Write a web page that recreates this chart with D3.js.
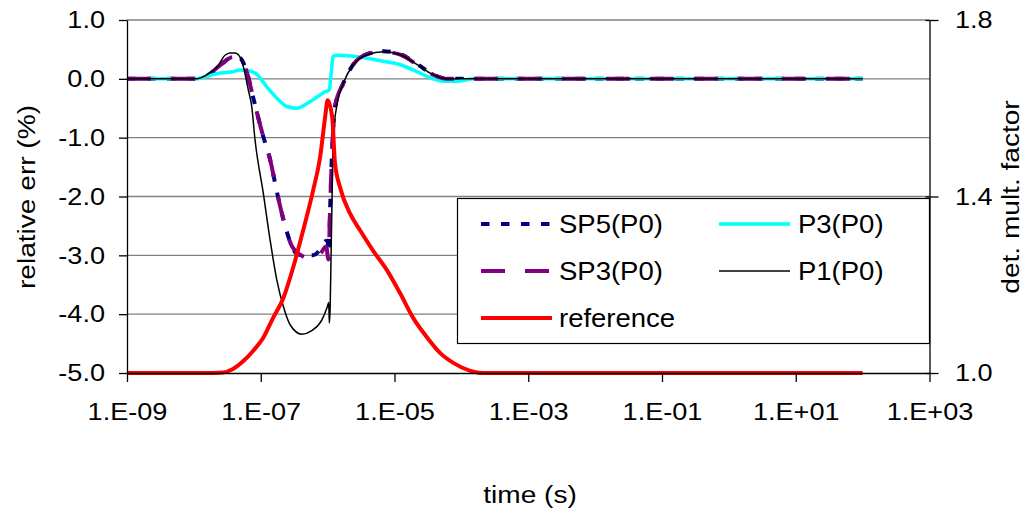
<!DOCTYPE html>
<html>
<head>
<meta charset="utf-8">
<script src="https://cdn.jsdelivr.net/npm/d3@7/dist/d3.min.js"></script>
<style>
  body { margin: 0; background: #fff; }
  svg { display: block; }
  text { font-family: "Liberation Sans", Arial, sans-serif; fill: #000; }
</style>
</head>
<body>
<svg id="chart" width="1035" height="514"></svg>
<script>
// ---- axis ticks ----
const xTicks = [1e-9, 1e-7, 1e-5, 1e-3, 1e-1, 1e1, 1e3];
const xTickLabels = ["1.E-09", "1.E-07", "1.E-05", "1.E-03", "1.E-01", "1.E+01", "1.E+03"];
const leftTicks = [-5, -4, -3, -2, -1, 0, 1];
const leftTickLabels = ["-5.0", "-4.0", "-3.0", "-2.0", "-1.0", "0.0", "1.0"];
const rightTicks = [1.0, 1.4, 1.8];
const rightTickLabels = ["1.0", "1.4", "1.8"];

// ---- series: [time (s), value] ----
// relative error (%) on the left axis
const sp5 = [
  [1e-9, 0], [1.11e-8, 0], [1.57e-8, 0.05], [2.46e-8, 0.23], [3.85e-8, 0.37], [4.9e-8, 0.35],
  [6.24e-8, 0.1], [7.67e-8, -0.31], [1.09e-7, -0.98], [1.38e-7, -1.37], [1.75e-7, -1.93],
  [2.18e-7, -2.39], [2.94e-7, -2.85], [3.49e-7, -2.98], [4.3e-7, -3.0], [6.07e-7, -3.0],
  [7.72e-7, -2.9], [9.18e-7, -2.76], [1.0e-6, -2.75], [1.04e-6, -2.95], [1.09e-6, -2.2],
  [1.17e-6, -1.2], [1.29e-6, -0.47], [1.71e-6, -0.08], [2.41e-6, 0.24], [3.9e-6, 0.42],
  [6.78e-6, 0.47], [1.22e-5, 0.42], [2.19e-5, 0.25], [3.8e-5, 0.07], [6.15e-5, 0], [100, 0]
];
const p3 = [
  [1e-9, 0], [1.11e-8, 0], [1.22e-8, 0.01], [2.46e-8, 0.1], [3.85e-8, 0.12], [4.9e-8, 0.15],
  [6.52e-8, 0.14], [8.81e-8, 0.07], [1.24e-7, -0.14], [1.75e-7, -0.33], [2.48e-7, -0.47],
  [3.49e-7, -0.5], [4.93e-7, -0.42], [6.96e-7, -0.31], [9.18e-7, -0.22], [1.06e-6, -0.19],
  [1.13e-6, 0.1], [1.21e-6, 0.38], [1.39e-6, 0.4], [2.17e-6, 0.39], [3.9e-6, 0.35],
  [6.78e-6, 0.3], [1.22e-5, 0.24], [2.19e-5, 0.12], [3.8e-5, 0.0], [5.36e-5, -0.04],
  [8.69e-5, -0.04], [1.51e-4, 0], [100, 0]
];
const sp3 = [
  [1e-9, 0], [1.11e-8, 0], [1.57e-8, 0.05], [2.46e-8, 0.23], [3.85e-8, 0.37], [4.9e-8, 0.35],
  [6.24e-8, 0.1], [7.67e-8, -0.31], [1.09e-7, -0.98], [1.38e-7, -1.37], [1.75e-7, -1.93],
  [2.18e-7, -2.39], [2.94e-7, -2.85], [4.3e-7, -3.02], [5.8e-7, -3.07], [7.72e-7, -2.98],
  [9.5e-7, -2.85], [1.03e-6, -3.07], [1.09e-6, -2.17], [1.17e-6, -1.2], [1.29e-6, -0.47],
  [1.71e-6, -0.08], [2.41e-6, 0.24], [3.9e-6, 0.42], [6.78e-6, 0.46], [1.22e-5, 0.41],
  [2.19e-5, 0.24], [3.8e-5, 0.07], [6.15e-5, 0], [100, 0]
];
const p1 = [
  [1e-9, 0], [1.11e-8, 0], [1.57e-8, 0.07], [2.22e-8, 0.2], [2.92e-8, 0.4], [3.47e-8, 0.44],
  [4.12e-8, 0.44], [4.62e-8, 0.41], [5.49e-8, 0.21], [6.52e-8, -0.19], [7.33e-8, -0.47],
  [8.22e-8, -1.04], [1.09e-7, -1.94], [1.38e-7, -2.74], [1.74e-7, -3.42], [2.18e-7, -3.87],
  [2.75e-7, -4.18], [4.11e-7, -4.34], [5.8e-7, -4.28], [8.18e-7, -4.1], [9.93e-7, -3.87],
  [1.04e-6, -3.8], [1.06e-6, -4.15], [1.09e-6, -3.9], [1.13e-6, -2.9], [1.17e-6, -1.9],
  [1.21e-6, -1.0], [1.39e-6, -0.42], [1.71e-6, -0.08], [2.41e-6, 0.24], [3.9e-6, 0.41],
  [6.78e-6, 0.46], [1.22e-5, 0.41], [2.19e-5, 0.24], [3.8e-5, 0.07], [6.15e-5, 0], [100, 0]
];
// detector multiplication factor on the right axis
const reference = [
  [1e-9, 1.0], [1.93e-8, 1.0], [2.73e-8, 1.001], [3.85e-8, 1.009], [5.49e-8, 1.027],
  [7.67e-8, 1.05], [1.09e-7, 1.08], [1.53e-7, 1.125], [2.18e-7, 1.17], [3.05e-7, 1.239],
  [4.3e-7, 1.323], [6.07e-7, 1.414], [7.72e-7, 1.489], [9.18e-7, 1.58], [1.0e-6, 1.618],
  [1.17e-6, 1.58], [1.29e-6, 1.475], [1.54e-6, 1.42], [2.17e-6, 1.361], [3.07e-6, 1.323],
  [4.8e-6, 1.277], [7.78e-6, 1.232], [1.22e-5, 1.18], [1.9e-5, 1.125], [3.09e-5, 1.08],
  [4.83e-5, 1.045], [7.57e-5, 1.023], [1.36e-4, 1.005], [2.06e-4, 1.0], [100, 1.0]
];

const seriesNames = ["SP5(P0)", "P3(P0)", "SP3(P0)", "P1(P0)", "reference"];
const seriesData = [sp5, p3, sp3, p1, reference];
const seriesAxis = ["left", "left", "left", "left", "right"];
const seriesColors = ["#000080", "#00ffff", "#800080", "#000000", "#ff0000"];

// ---- drawing ----
const styles = [
  { width: 4, dash: "8.5,11.5" },
  { width: 3.5, dash: null },
  { width: 4, dash: "24,20" },
  { width: 1.5, dash: null },
  { width: 4, dash: null }
];

const svg = d3.select("#chart");
const plotLeft = 127, plotRight = 929.5, plotTop = 20, plotBottom = 373;

const x = d3.scaleLog().domain([1e-9, 1e3]).range([plotLeft, plotRight]);
const yL = d3.scaleLinear().domain([-5, 1]).range([plotBottom, plotTop]);
const yR = d3.scaleLinear().domain([1.0, 1.8]).range([plotBottom, plotTop]);

// widen glyphs slightly along the text direction
function stretch(sel, k) {
  sel.each(function () {
    const t = d3.select(this);
    const tx = +t.attr("x") || 0, ty = +t.attr("y") || 0;
    t.attr("x", 0).attr("y", 0)
     .attr("transform", `translate(${tx},${ty}) scale(${k},1)`);
  });
}

// horizontal gridlines
svg.append("g")
  .selectAll("line")
  .data(leftTicks.filter(d => d !== -5))
  .join("line")
  .attr("x1", plotLeft).attr("x2", plotRight)
  .attr("y1", d => yL(d)).attr("y2", d => yL(d))
  .attr("stroke", "#808080").attr("stroke-width", 1.4);

// series lines
const plot = svg.append("g");
seriesData.forEach((data, i) => {
  const ys = seriesAxis[i] === "right" ? yR : yL;
  const line = d3.line()
    .x(d => x(d[0]))
    .y(d => ys(d[1]))
    .curve(d3.curveMonotoneX);
  plot.append("path")
    .datum(data)
    .attr("d", line)
    .attr("fill", "none")
    .attr("stroke", seriesColors[i])
    .attr("stroke-width", styles[i].width)
    .attr("stroke-dasharray", styles[i].dash)
    .attr("stroke-linejoin", "round");
});

// axes
const gx = svg.append("g")
  .attr("transform", `translate(0,${plotBottom})`)
  .call(d3.axisBottom(x).tickValues(xTicks)
    .tickFormat((d, i) => xTickLabels[i])
    .tickSize(9).tickSizeOuter(0).tickPadding(21));

const gl = svg.append("g")
  .attr("transform", `translate(${plotLeft},0)`)
  .call(d3.axisLeft(yL).tickValues(leftTicks)
    .tickFormat((d, i) => leftTickLabels[i])
    .tickSize(8).tickSizeOuter(0).tickPadding(14));

const gr = svg.append("g")
  .attr("transform", `translate(${plotRight},0)`)
  .call(d3.axisRight(yR).tickValues(rightTicks)
    .tickFormat((d, i) => rightTickLabels[i])
    .tickSize(9).tickSizeOuter(0).tickPadding(16.5));
gr.selectAll(".tick").append("line")
  .attr("x1", -4).attr("x2", 0)
  .attr("stroke", "#000");

[gx, gl, gr].forEach(g => {
  g.attr("font-size", null).attr("font-family", null);
  g.selectAll("path, line").attr("stroke", "#000").attr("stroke-width", 1.3);
  g.selectAll("text").style("font-size", "24px").attr("fill", "#000");
  stretch(g.selectAll("text"), 1.13);
});

// axis titles
svg.append("text")
  .attr("transform", "translate(27,197) rotate(-90) scale(1.17,1)")
  .attr("text-anchor", "middle").attr("dy", "0.35em")
  .style("font-size", "24px")
  .text("relative err (%)");

svg.append("text")
  .attr("transform", "translate(1011,197) rotate(-90) scale(1.17,1)")
  .attr("text-anchor", "middle").attr("dy", "0.35em")
  .style("font-size", "24px")
  .text("det. mult. factor");

svg.append("text")
  .attr("transform", "translate(530,503) scale(1.17,1)")
  .attr("text-anchor", "middle")
  .style("font-size", "24px")
  .text("time (s)");

// legend (two columns, row-wise)
const legend = svg.append("g");
legend.append("rect")
  .attr("x", 457.5).attr("y", 198.5)
  .attr("width", 472).attr("height", 145)
  .attr("fill", "#fff").attr("stroke", "#000").attr("stroke-width", 1.2);

const colLine = [[481, 552], [719, 790]];
const colText = [559, 798];
const rowY = [224, 271, 318];

seriesNames.forEach((name, i) => {
  const c = i % 2, r = Math.floor(i / 2);
  const yy = rowY[r];
  legend.append("line")
    .attr("x1", colLine[c][0]).attr("x2", colLine[c][1])
    .attr("y1", yy).attr("y2", yy)
    .attr("stroke", seriesColors[i])
    .attr("stroke-width", styles[i].width)
    .attr("stroke-dasharray", styles[i].dash);
  legend.append("text")
    .attr("transform", `translate(${colText[c]},${yy}) scale(1.1,1)`)
    .attr("dy", "0.35em")
    .style("font-size", "25px")
    .text(name);
});
</script>
</body>
</html>
